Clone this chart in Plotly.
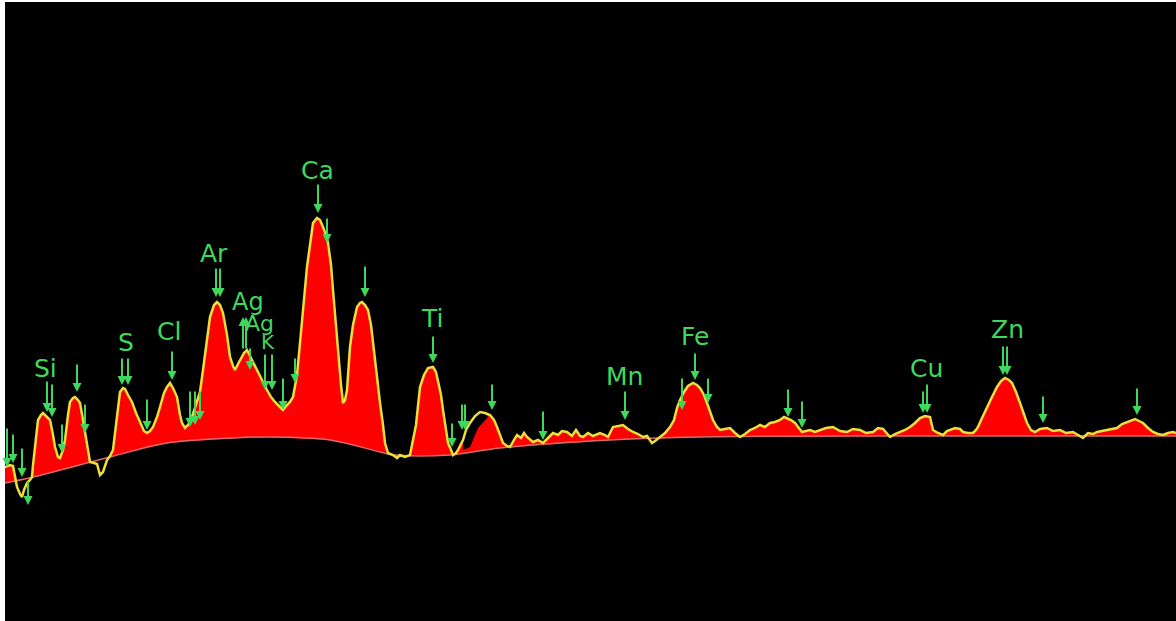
import numpy as np
import plotly.graph_objects as go

# ---- spectrum (channel vs counts) ----
channel = [5, 10, 13, 17, 20, 22, 24, 27, 30, 32, 33, 36, 38, 41, 43, 46, 50, 53, 55, 58, 60, 63, 65, 68, 70, 73, 75, 78, 80, 83, 85, 88, 90, 94, 97, 100, 103, 105, 107, 110, 113, 116, 120, 123, 125, 128, 132, 136, 140, 144, 147, 150, 153, 157, 160, 164, 167, 170, 173, 177, 180, 182, 185, 188, 191, 194, 197, 200, 203, 207, 210, 214, 217, 220, 223, 227, 230, 233, 235, 238, 240, 244, 247, 250, 253, 257, 260, 264, 267, 271, 275, 280, 283, 287, 290, 293, 297, 300, 304, 307, 310, 313, 317, 320, 323, 326, 328, 331, 333, 336, 338, 341, 343, 345, 347, 350, 353, 357, 360, 362, 365, 368, 371, 373, 376, 380, 383, 385, 388, 393, 397, 400, 405, 410, 413, 416, 420, 424, 428, 433, 436, 438, 441, 443, 446, 448, 451, 453, 456, 458, 463, 466, 470, 475, 480, 485, 490, 494, 497, 500, 503, 507, 510, 514, 517, 521, 524, 527, 530, 533, 538, 543, 548, 553, 558, 562, 567, 572, 576, 580, 583, 588, 593, 597, 600, 605, 608, 613, 618, 623, 628, 633, 638, 643, 647, 650, 652, 655, 660, 665, 670, 674, 677, 680, 684, 688, 693, 697, 700, 704, 707, 710, 713, 717, 720, 725, 730, 735, 740, 745, 750, 755, 760, 765, 770, 775, 780, 784, 787, 791, 795, 799, 802, 806, 810, 815, 820, 826, 833, 840, 847, 853, 860, 866, 873, 878, 883, 887, 890, 895, 900, 905, 910, 915, 920, 925, 930, 933, 938, 943, 947, 950, 955, 960, 963, 968, 973, 976, 978, 982, 987, 992, 997, 1001, 1005, 1009, 1012, 1016, 1020, 1024, 1027, 1031, 1035, 1040, 1047, 1053, 1060, 1066, 1073, 1078, 1083, 1088, 1093, 1097, 1102, 1107, 1112, 1117, 1122, 1127, 1131, 1135, 1139, 1143, 1148, 1153, 1158, 1163, 1168, 1173, 1176]
counts = [154, 156, 155, 134, 127, 124, 131, 138, 141, 144, 156, 181, 201, 206, 208, 205, 201, 186, 174, 164, 163, 171, 181, 206, 219, 223, 224, 221, 218, 201, 188, 169, 159, 158, 157, 146, 149, 155, 161, 165, 171, 196, 229, 233, 232, 226, 219, 208, 198, 190, 188, 190, 194, 204, 214, 228, 234, 238, 233, 224, 206, 198, 193, 196, 201, 211, 221, 229, 251, 281, 304, 316, 319, 316, 308, 286, 264, 255, 251, 257, 261, 268, 271, 265, 258, 251, 244, 237, 231, 224, 219, 214, 211, 216, 219, 224, 246, 278, 321, 354, 376, 398, 403, 401, 394, 386, 378, 356, 331, 296, 264, 236, 218, 221, 231, 274, 296, 314, 318, 319, 316, 311, 296, 278, 251, 218, 196, 178, 168, 166, 163, 166, 164, 166, 181, 196, 234, 246, 253, 254, 249, 241, 226, 211, 191, 178, 171, 166, 168, 171, 181, 191, 198, 205, 209, 208, 206, 201, 194, 186, 178, 175, 174, 181, 186, 183, 188, 184, 181, 179, 181, 178, 183, 188, 186, 190, 189, 185, 191, 185, 184, 188, 185, 187, 188, 186, 184, 194, 195, 196, 192, 189, 187, 184, 185, 181, 178, 180, 184, 188, 194, 201, 213, 221, 229, 235, 238, 236, 233, 226, 218, 209, 201, 194, 191, 192, 193, 188, 184, 187, 191, 193, 196, 194, 198, 199, 201, 204, 203, 201, 198, 193, 189, 190, 191, 189, 191, 193, 194, 190, 189, 192, 191, 188, 189, 193, 192, 187, 184, 187, 189, 191, 194, 198, 203, 205, 204, 191, 188, 186, 190, 191, 193, 192, 189, 188, 188, 191, 194, 203, 214, 224, 234, 240, 243, 241, 238, 229, 218, 206, 198, 191, 189, 192, 193, 190, 191, 188, 189, 186, 183, 188, 187, 189, 190, 191, 192, 193, 197, 199, 201, 202, 200, 198, 193, 189, 187, 186, 188, 189, 188]

# ---- background curve ----
bg_channel = [5, 33, 110, 167, 233, 267, 330, 380, 395, 450, 500, 610, 700, 900, 1176]
bg_counts = [138, 144, 164, 178, 183, 184, 181, 169, 166, 166, 173, 181, 184, 185, 185]

# ---- fitted peak edge where the fit sits below the spectrum ----
fit_channel = [463, 470, 478, 488]
fit_counts = [171, 174, 193, 204]

# ---- peak marker arrows (channel, counts at arrow tip) ----
marker_channel = [7, 13, 22, 28, 47, 52, 62, 77, 85, 122, 128, 147, 172, 190, 195, 200, 216, 220,
                  243, 246, 250, 265, 272, 283, 295, 318, 327, 365, 433, 452, 462, 465, 492, 543,
                  625, 682, 695, 708, 788, 802, 923, 927, 1003, 1007, 1043, 1137]
marker_counts = [154, 158, 144, 116, 209, 204, 168, 229, 188, 236, 236, 191, 241, 194, 196, 201, 324, 324,
                 304, 304, 251, 231, 231, 211, 238, 408, 378, 324, 258, 174, 191, 191, 211, 181,
                 201, 211, 241, 218, 204, 193, 208, 208, 246, 246, 198, 206]
marker_len = [40, 30, 30, 25, 32, 34, 30, 29, 30, 28, 28, 32, 30, 37, 35, 30, 30, 30,
              -33, -33, 23, 37, 37, 33, 26, 30, 26, 32, 28, 25, 27, 27, 27, 30,
              30, 33, 28, 26, 29, 28, 23, 30, 30, 30, 28, 28]

# ---- element labels ----
labels = ["Si", "S", "Cl", "Ar", "Ag", "Ag", "K", "Ca", "Ti", "Mn", "Fe", "Cu", "Zn"]
label_channel = [45, 126, 169, 214, 248, 259, 268, 317, 432, 624, 695, 926, 1007]
label_counts = [253, 279, 290, 368, 319, 298, 279, 451, 303, 245, 285, 253, 292]
label_size = [25, 25, 25, 25, 24, 22, 20, 25, 25, 25, 25, 25, 25]

GREEN = "#3ed85c"
ch = np.array(channel, dtype=float)
ct = np.array(counts, dtype=float)
bg_at = np.interp(ch, bg_channel, bg_counts)
upper = np.maximum(ct, bg_at)

sel = (ch >= fit_channel[0]) & (ch <= fit_channel[-1])
notch_x = list(ch[sel]) + fit_channel[::-1]
notch_y = list(ct[sel]) + fit_counts[::-1]

fig = go.Figure()
fig.add_trace(go.Scatter(x=bg_channel, y=bg_counts, mode="lines",
                         line=dict(color="rgba(0,0,0,0)", width=0), hoverinfo="skip"))
fig.add_trace(go.Scatter(x=channel, y=upper, mode="lines", fill="tonexty",
                         fillcolor="#ff0000", line=dict(color="rgba(0,0,0,0)", width=0),
                         hoverinfo="skip"))
fig.add_trace(go.Scatter(x=notch_x, y=notch_y, mode="lines", fill="toself",
                         fillcolor="#000000", line=dict(color="rgba(0,0,0,0)", width=0),
                         hoverinfo="skip"))
fig.add_trace(go.Scatter(x=bg_channel, y=bg_counts, mode="lines",
                         line=dict(color="#d86a6a", width=1.5, shape="spline"), hoverinfo="skip"))
fig.add_trace(go.Scatter(x=channel, y=counts, mode="lines",
                         line=dict(color="#ecdf3a", width=2.5)))

annotations = []
for x, y, L in zip(marker_channel, marker_counts, marker_len):
    annotations.append(dict(x=x, y=y, xref="x", yref="y", ax=0, ay=-L, text="",
                            showarrow=True, arrowhead=2, arrowsize=0.9, arrowwidth=2,
                            arrowcolor=GREEN, standoff=0))
for t, x, y, s in zip(labels, label_channel, label_counts, label_size):
    annotations.append(dict(x=x, y=y, xref="x", yref="y", text=t, showarrow=False,
                            font=dict(family="DejaVu Sans", size=s, color=GREEN)))

fig.update_layout(
    width=1176, height=621,
    margin=dict(l=5, r=0, t=2, b=0, pad=0),
    paper_bgcolor="#ffffff", plot_bgcolor="#000000",
    showlegend=False,
    xaxis=dict(visible=False, range=[5, 1176], fixedrange=True),
    yaxis=dict(visible=False, range=[0, 619], fixedrange=True),
    annotations=annotations,
)
fig.write_html("out.html", config={"displayModeBar": False},
               post_script="document.body.style.margin='0';document.body.style.overflow='hidden';")
